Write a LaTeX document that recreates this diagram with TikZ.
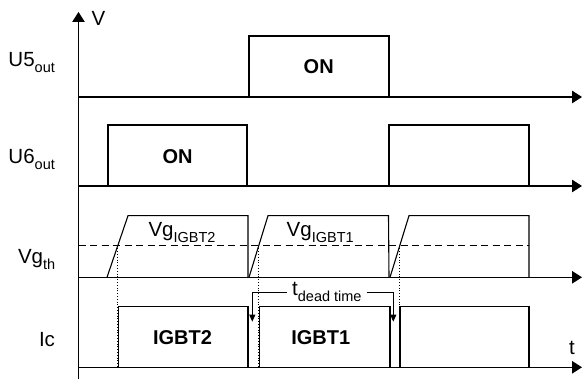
\documentclass[tikz,border=0pt]{standalone}
\usepackage{fontspec}
\setmainfont{Liberation Sans}
\usetikzlibrary{arrows.meta}
\newcommand{\lowsub}[1]{\raisebox{-6pt}{\fontsize{14.5}{15}\selectfont #1}}
\begin{document}
\begin{tikzpicture}[x=1pt,y=-1pt, line width=1pt,
  wave/.style={line width=1.1pt, line join=miter},
  axisarrow/.style={line width=1.1pt, -{Triangle[length=10pt,width=12.5pt]}},
  dtarrow/.style={line width=1pt, -{Triangle[length=7pt,width=6pt]}},
  lbl/.style={font=\fontsize{20.5}{22}\selectfont, inner sep=0pt, anchor=base west},
  boldlbl/.style={font=\fontsize{20}{22}\selectfont\bfseries, inner sep=0pt, anchor=base},
  thr/.style={line width=1pt, dash pattern=on 7pt off 4.5pt},
  dots/.style={line width=0.8pt, dotted}]
\useasboundingbox (0,0) rectangle (582,379);

% axes
\coordinate (o) at (78.5,379);
\coordinate (vtop) at (78.5,12);
\draw[axisarrow] (o) -- (vtop);
\foreach \n/\y in {u5/97, u6/186, vg/277.3, ic/367.3}{
  \coordinate (\n0) at (78.5,\y);
  \coordinate (\n1) at (582,\y);
  \draw[axisarrow] (\n0) -- (\n1);
}

% axis labels
\node[lbl] (lv) at (91.2,25.5) {V};
\node[lbl] (lt) at (568.5,355) {t};
\node[lbl] (lu5) at (8,67) {U5\lowsub{out}};
\node[lbl] (lu6) at (8,164) {U6\lowsub{out}};
\node[lbl] (lvg) at (17.5,263.5) {Vg\lowsub{th}};
\node[lbl] (lic) at (38.5,347) {Ic};

% U5 pulse
\draw[wave] (249,97) -- (249,36) -- (389,36) -- (389,97);
\node[boldlbl] (on5) at (318.7,74) {ON};

% U6 pulses
\draw[wave] (108,186) -- (108,125) -- (247,125) -- (247,186);
\draw[wave] (389,186) -- (389,125) -- (529,125) -- (529,186);
\node[boldlbl] (on6) at (177.5,163.3) {ON};

% threshold
\draw[thr] (78.5,245.7) -- (529,245.7);

% gate voltages
\draw[wave] (107,277.3) -- (128,215.7) -- (248,215.7) -- (248,277.3);
\draw[wave] (249,277.3) -- (268,215.7) -- (388.5,215.7) -- (389,277.3);
\draw[wave] (390,277.3) -- (409,215.7) -- (529,215.7) -- (529,277.3);
\node[lbl] (vg2) at (148,236.5) {Vg\lowsub{IGBT2}};
\node[lbl] (vg1) at (286.2,236.5) {Vg\lowsub{IGBT1}};

% dotted projections
\draw[dots] (117.6,245.7) -- (117.6,367.3);
\draw[dots] (258.6,245.7) -- (258.6,367.3);
\draw[dots] (399.4,245.7) -- (399.4,367.3);

% collector currents
\draw[wave] (118.5,367.3) -- (118.5,306.3) -- (248,306.3) -- (248,367.3);
\draw[wave] (259.5,367.3) -- (259.5,306.3) -- (390,306.3) -- (390,367.3);
\draw[wave] (400,367.3) -- (400,306.3) -- (529,306.3) -- (529,367.3);
\node[boldlbl] (ig2) at (182.5,345) {IGBT2};
\node[boldlbl] (ig1) at (320.8,345) {IGBT1};

% dead time
\node[lbl, inner xsep=4.5pt] (dt) at (287.2,295.5) {t\lowsub{dead time}};
\coordinate (dtl) at (252.3,321.7);
\coordinate (dtr) at (393.3,321.7);
\draw[dtarrow] (dt.west |- 0,292.3) -| (dtl);
\draw[dtarrow] (dt.east |- 0,292.3) -| (dtr);
\end{tikzpicture}
\end{document}
